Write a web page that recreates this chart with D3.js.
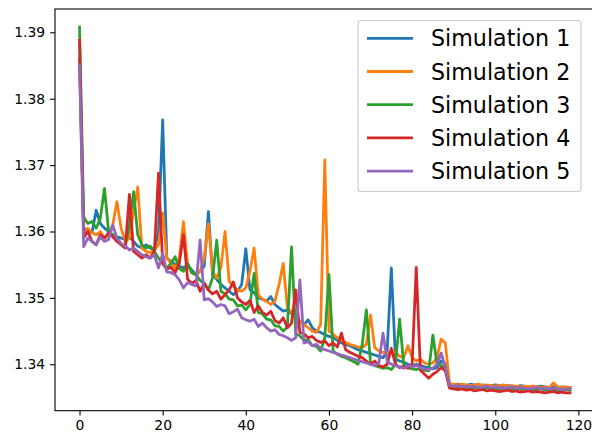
<!DOCTYPE html>
<html>
<head>
<meta charset="utf-8">
<script src="https://cdn.jsdelivr.net/npm/d3@7"></script>
<style>
  html, body { margin: 0; padding: 0; background: #fff; }
  svg { display: block; font-family: "DejaVu Sans", sans-serif; }
</style>
</head>
<body>
<svg id="chart" width="592" height="436"></svg>
<script>
// Series names and colours
const seriesNames = ["Simulation 1", "Simulation 2", "Simulation 3", "Simulation 4", "Simulation 5"];
const seriesColors = ["#1f77b4", "#ff7f0e", "#2ca02c", "#d62728", "#9467bd"];

// Tick labels
const xTicks = [0, 20, 40, 60, 80, 100, 120];
const yTicks = [1.34, 1.35, 1.36, 1.37, 1.38, 1.39];

// Values per iteration (x = 0 .. 118)
const sim1 = [
  1.3860, 1.3605, 1.3600, 1.3598, 1.3632, 1.3612, 1.3605, 1.3600, 1.3595, 1.3592,
  1.3590, 1.3588, 1.3592, 1.3585, 1.3578, 1.3575, 1.3580, 1.3575, 1.3572, 1.3600,
  1.3768, 1.3560, 1.3555, 1.3550, 1.3548, 1.3545, 1.3550, 1.3542, 1.3535, 1.3540,
  1.3548, 1.3630, 1.3535, 1.3528, 1.3520, 1.3515, 1.3510, 1.3505, 1.3510, 1.3520,
  1.3574, 1.3512, 1.3508, 1.3500, 1.3498, 1.3495, 1.3502, 1.3490, 1.3485, 1.3480,
  1.3482, 1.3476, 1.3470, 1.3465, 1.3460, 1.3467, 1.3455, 1.3450, 1.3448, 1.3445,
  1.3442, 1.3440, 1.3436, 1.3432, 1.3430, 1.3428, 1.3425, 1.3422, 1.3420, 1.3418,
  1.3416, 1.3414, 1.3412, 1.3410, 1.3420, 1.3545, 1.3408, 1.3405, 1.3403, 1.3400,
  1.3398, 1.3400, 1.3398, 1.3396, 1.3395, 1.3393, 1.3395, 1.3405, 1.3400,
  1.3370, 1.3369, 1.3370, 1.3369, 1.3368, 1.3370, 1.3369, 1.3368, 1.3369, 1.3367,
  1.3368, 1.3369, 1.3368, 1.3367, 1.3368, 1.3367, 1.3366, 1.3368, 1.3367, 1.3366,
  1.3367, 1.3366, 1.3367, 1.3366, 1.3365, 1.3366, 1.3365, 1.3366, 1.3365, 1.3365
];
const sim2 = [
  1.3855, 1.3592, 1.3605, 1.3598, 1.3595, 1.3600, 1.3590, 1.3595, 1.3610, 1.3645,
  1.3605, 1.3585, 1.3590, 1.3630, 1.3667, 1.3575, 1.3570, 1.3568, 1.3572, 1.3580,
  1.3628, 1.3560, 1.3552, 1.3545, 1.3560, 1.3615, 1.3550, 1.3538, 1.3535, 1.3540,
  1.3560, 1.3612, 1.3540, 1.3530, 1.3545, 1.3600, 1.3525, 1.3518, 1.3512, 1.3510,
  1.3515, 1.3540, 1.3575, 1.3505, 1.3498, 1.3495, 1.3490, 1.3495, 1.3520, 1.3552,
  1.3485, 1.3478, 1.3472, 1.3465, 1.3460, 1.3455, 1.3450, 1.3448, 1.3460, 1.3708,
  1.3450, 1.3445, 1.3440, 1.3436, 1.3433, 1.3430, 1.3428, 1.3426, 1.3425, 1.3430,
  1.3474, 1.3425, 1.3420, 1.3418, 1.3415, 1.3420, 1.3418, 1.3412, 1.3410, 1.3428,
  1.3410, 1.3405, 1.3408, 1.3402, 1.3400, 1.3402, 1.3410, 1.3438, 1.3432,
  1.3371, 1.3370, 1.3369, 1.3370, 1.3369, 1.3368, 1.3369, 1.3370, 1.3368, 1.3369,
  1.3368, 1.3367, 1.3368, 1.3369, 1.3367, 1.3368, 1.3367, 1.3366, 1.3367, 1.3366,
  1.3367, 1.3366, 1.3365, 1.3366, 1.3365, 1.3372, 1.3366, 1.3365, 1.3366, 1.3365
];
const sim3 = [
  1.3908, 1.3622, 1.3612, 1.3615, 1.3605, 1.3620, 1.3665, 1.3600, 1.3595, 1.3588,
  1.3580, 1.3578, 1.3610, 1.3660, 1.3595, 1.3580, 1.3575, 1.3578, 1.3570, 1.3560,
  1.3552, 1.3545, 1.3552, 1.3562, 1.3544, 1.3540, 1.3552, 1.3538, 1.3535, 1.3526,
  1.3522, 1.3512, 1.3530, 1.3587, 1.3510, 1.3506, 1.3498, 1.3497, 1.3488, 1.3489,
  1.3482, 1.3490, 1.3537, 1.3478, 1.3476, 1.3468, 1.3467, 1.3458, 1.3457, 1.3450,
  1.3456, 1.3577, 1.3446, 1.3443, 1.3436, 1.3437, 1.3428, 1.3427, 1.3420, 1.3440,
  1.3535, 1.3420, 1.3415, 1.3412, 1.3410, 1.3407, 1.3404, 1.3400, 1.3430, 1.3482,
  1.3402, 1.3398, 1.3396, 1.3394, 1.3395, 1.3392, 1.3400, 1.3468, 1.3398, 1.3395,
  1.3393, 1.3392, 1.3394, 1.3391, 1.3390, 1.3444, 1.3400, 1.3398, 1.3395,
  1.3366, 1.3365, 1.3366, 1.3364, 1.3365, 1.3364, 1.3365, 1.3363, 1.3364, 1.3365,
  1.3363, 1.3364, 1.3363, 1.3364, 1.3362, 1.3363, 1.3364, 1.3362, 1.3363, 1.3362,
  1.3361, 1.3362, 1.3363, 1.3361, 1.3362, 1.3361, 1.3360, 1.3361, 1.3362, 1.3361
];
const sim4 = [
  1.3888, 1.3590, 1.3600, 1.3585, 1.3580, 1.3595, 1.3590, 1.3598, 1.3592, 1.3585,
  1.3580, 1.3575, 1.3656, 1.3570, 1.3565, 1.3560, 1.3565, 1.3560, 1.3570, 1.3688,
  1.3552, 1.3543, 1.3546, 1.3538, 1.3552, 1.3595, 1.3528, 1.3522, 1.3526, 1.3510,
  1.3522, 1.3512, 1.3506, 1.3510, 1.3498, 1.3505, 1.3512, 1.3524, 1.3500, 1.3494,
  1.3490, 1.3496, 1.3478, 1.3488, 1.3478, 1.3474, 1.3480, 1.3466, 1.3462, 1.3470,
  1.3455, 1.3462, 1.3512, 1.3448, 1.3446, 1.3440, 1.3442, 1.3436, 1.3433, 1.3435,
  1.3428, 1.3432, 1.3426, 1.3447, 1.3422, 1.3418, 1.3415, 1.3412, 1.3410, 1.3405,
  1.3400, 1.3405, 1.3398, 1.3396, 1.3400, 1.3424, 1.3400, 1.3395, 1.3397, 1.3394,
  1.3400, 1.3546, 1.3391, 1.3385, 1.3379, 1.3385, 1.3389, 1.3395, 1.3390,
  1.3364, 1.3363, 1.3362, 1.3363, 1.3361, 1.3362, 1.3360, 1.3361, 1.3362, 1.3360,
  1.3361, 1.3360, 1.3359, 1.3360, 1.3361, 1.3359, 1.3360, 1.3358, 1.3359, 1.3360,
  1.3358, 1.3359, 1.3358, 1.3357, 1.3358, 1.3359, 1.3357, 1.3358, 1.3357, 1.3357
];
const sim5 = [
  1.3850, 1.3577, 1.3590, 1.3585, 1.3580, 1.3592, 1.3585, 1.3588, 1.3610, 1.3590,
  1.3582, 1.3578, 1.3572, 1.3575, 1.3570, 1.3565, 1.3562, 1.3560, 1.3565, 1.3545,
  1.3567, 1.3539, 1.3538, 1.3535, 1.3527, 1.3515, 1.3523, 1.3520, 1.3518, 1.3587,
  1.3497, 1.3499, 1.3494, 1.3487, 1.3490, 1.3488, 1.3476, 1.3479, 1.3483, 1.3470,
  1.3467, 1.3465, 1.3468, 1.3457, 1.3462, 1.3455, 1.3450, 1.3452, 1.3445, 1.3443,
  1.3440, 1.3436, 1.3440, 1.3527, 1.3432, 1.3434, 1.3428, 1.3430, 1.3424, 1.3422,
  1.3420, 1.3418, 1.3416, 1.3414, 1.3412, 1.3410, 1.3408, 1.3406, 1.3404, 1.3402,
  1.3400, 1.3398, 1.3402, 1.3447, 1.3405, 1.3400, 1.3398, 1.3396, 1.3394, 1.3398,
  1.3396, 1.3398, 1.3395, 1.3393, 1.3392, 1.3394, 1.3400, 1.3417, 1.3395,
  1.3368, 1.3367, 1.3368, 1.3366, 1.3367, 1.3366, 1.3367, 1.3365, 1.3366, 1.3367,
  1.3365, 1.3366, 1.3365, 1.3364, 1.3365, 1.3366, 1.3364, 1.3365, 1.3364, 1.3363,
  1.3364, 1.3365, 1.3363, 1.3364, 1.3363, 1.3364, 1.3363, 1.3362, 1.3363, 1.3363
];

const seriesValues = [sim1, sim2, sim3, sim4, sim5];

// Plot area
const plot = { left: 55, right: 594.6, top: 9, bottom: 410.7 };

const svg = d3.select("#chart");

const x = d3.scaleLinear().domain([-5.9, 123.9]).range([plot.left, plot.right]);
const y = d3.scaleLinear().domain([1.33301, 1.39351]).range([plot.bottom, plot.top]);

svg.append("defs").append("clipPath").attr("id", "plot-clip")
  .append("rect")
  .attr("x", plot.left).attr("y", plot.top)
  .attr("width", plot.right - plot.left).attr("height", plot.bottom - plot.top);

// Lines
const line = d3.line()
  .x((d, i) => x(i))
  .y(d => y(d));

const linesG = svg.append("g").attr("clip-path", "url(#plot-clip)");
seriesValues.forEach((vals, k) => {
  linesG.append("path")
    .datum(vals)
    .attr("d", line)
    .attr("fill", "none")
    .attr("stroke", seriesColors[k])
    .attr("stroke-width", 2.78)
    .attr("stroke-linejoin", "round")
    .attr("stroke-linecap", "square");
});

// Axes
const xAxis = d3.axisBottom(x).tickValues(xTicks).tickSize(4.9).tickPadding(4.9).tickFormat(d3.format("d"));
const yAxis = d3.axisLeft(y).tickValues(yTicks).tickSize(4.9).tickPadding(4.9).tickFormat(d3.format(".2f"));

const gx = svg.append("g").attr("transform", `translate(0,${plot.bottom})`).call(xAxis);
const gy = svg.append("g").attr("transform", `translate(${plot.left},0)`).call(yAxis);

[gx, gy].forEach(g => {
  g.select(".domain").remove();
  g.selectAll(".tick line").attr("stroke", "#000").attr("stroke-width", 1.1);
  g.selectAll(".tick text")
    .attr("fill", "#000")
    .style("font-family", "'DejaVu Sans', sans-serif")
    .style("font-size", "13.9px");
});

// Frame
svg.append("rect")
  .attr("x", plot.left).attr("y", plot.top)
  .attr("width", plot.right - plot.left).attr("height", plot.bottom - plot.top)
  .attr("fill", "none")
  .attr("stroke", "#000")
  .attr("stroke-width", 1.1);

// Legend
const legend = svg.append("g");
legend.append("rect")
  .attr("x", 358).attr("y", 20.5)
  .attr("width", 223).attr("height", 171)
  .attr("rx", 3).attr("ry", 3)
  .attr("fill", "#fff").attr("fill-opacity", 0.8)
  .attr("stroke", "#cccccc").attr("stroke-width", 1.1);

seriesNames.forEach((name, k) => {
  const cy = 38.3 + k * 33.2;
  legend.append("line")
    .attr("x1", 367).attr("x2", 413)
    .attr("y1", cy).attr("y2", cy)
    .attr("stroke", seriesColors[k])
    .attr("stroke-width", 2.78);
  legend.append("text")
    .attr("x", 431).attr("y", cy)
    .attr("dominant-baseline", "central")
    .attr("fill", "#000")
    .style("font-family", "'DejaVu Sans', sans-serif")
    .style("font-size", "22.2px")
    .text(name);
});
</script>
</body>
</html>
